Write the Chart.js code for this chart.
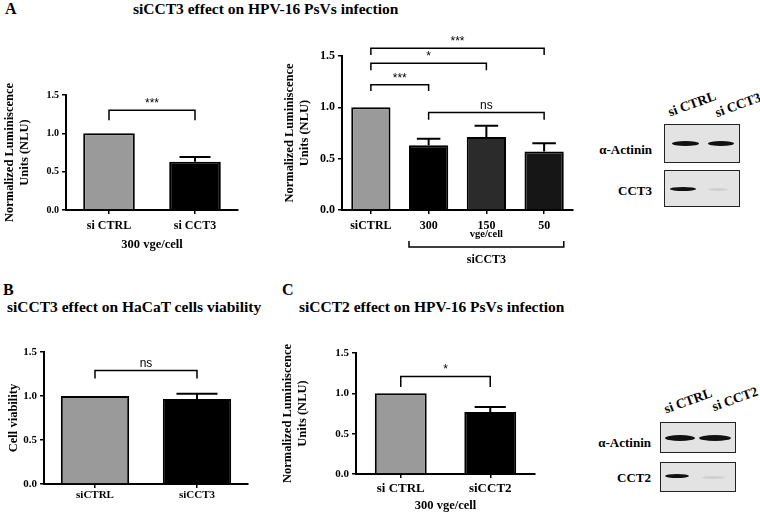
<!DOCTYPE html>
<html>
<head>
<meta charset="utf-8">
<script src="https://cdn.jsdelivr.net/npm/chart.js@4.4.1/dist/chart.umd.min.js"></script>
<style>
  body { margin: 0; background: #fff; width: 760px; height: 514px; position: relative; overflow: hidden;
         font-family: "Liberation Serif", "Times New Roman", "DejaVu Serif", serif; font-weight: bold; color: #000; }
  canvas { position: absolute; }
  .t { position: absolute; white-space: nowrap; line-height: 1; }
  .r { text-align: right; }
  .rot { transform: translate(-50%, -50%) rotate(-20deg); }
  .blot { position: absolute; border: 1.5px solid #222; background: #e3e3e3; box-sizing: border-box; }
  .band { position: absolute; border-radius: 50%; background: #111; filter: blur(0.6px); }
  .faint { background: #cfcfcf; }
</style>
</head>
<body>

<div class="t" style="left:5px;top:1px;font-size:16px">A</div>
<div class="t" style="left:133px;top:1px;font-size:15.5px">siCCT3 effect on HPV-16 PsVs infection</div>
<div class="t" style="left:3px;top:282px;font-size:16px">B</div>
<div class="t" style="left:7px;top:299px;font-size:15.5px">siCCT3 effect on HaCaT cells viability</div>
<div class="t" style="left:282px;top:282px;font-size:16px">C</div>
<div class="t" style="left:299px;top:299px;font-size:15.5px">siCCT2 effect on HPV-16 PsVs infection</div>

<canvas id="a1" width="245" height="200" style="left:0;top:60px"></canvas>
<canvas id="a2" width="300" height="240" style="left:280px;top:30px"></canvas>
<canvas id="b" width="260" height="194" style="left:0;top:320px"></canvas>
<canvas id="c" width="265" height="194" style="left:280px;top:320px"></canvas>

<!-- western blot, panel A -->
<div class="t rot" style="left:692px;top:104px;font-size:13.5px">si CTRL</div>
<div class="t rot" style="left:738px;top:105px;font-size:13.5px">si CCT3</div>
<div class="t r" style="right:108px;top:143px;font-size:13px">α-Actinin</div>
<div class="t r" style="right:108px;top:184px;font-size:13px">CCT3</div>
<div class="blot" style="left:664px;top:124px;width:76px;height:39px">
  <div class="band" style="left:7px;top:16px;width:27px;height:5px"></div>
  <div class="band" style="left:43px;top:16px;width:26px;height:5px"></div>
</div>
<div class="blot" style="left:664px;top:170px;width:76px;height:37px">
  <div class="band" style="left:5px;top:16px;width:26px;height:4px"></div>
  <div class="band faint" style="left:43px;top:17px;width:20px;height:3px"></div>
</div>

<!-- western blot, panel C -->
<div class="t rot" style="left:688px;top:401px;font-size:13.5px">si CTRL</div>
<div class="t rot" style="left:735px;top:399px;font-size:13.5px">si CCT2</div>
<div class="t r" style="right:109px;top:436px;font-size:13px">α-Actinin</div>
<div class="t r" style="right:109px;top:471px;font-size:13px">CCT2</div>
<div class="blot" style="left:660px;top:422px;width:76px;height:31px">
  <div class="band" style="left:4px;top:12px;width:30px;height:6px"></div>
  <div class="band" style="left:38px;top:12px;width:32px;height:6px"></div>
</div>
<div class="blot" style="left:660px;top:462px;width:76px;height:30px">
  <div class="band" style="left:4px;top:11px;width:24px;height:4px"></div>
  <div class="band faint" style="left:41px;top:13px;width:23px;height:3px"></div>
</div>

<script>
// A, left: 300 vge/cell
const a1Labels = ['si CTRL', 'si CCT3'];
const a1Values = [1.0, 0.63];
const a1Err = [0, 0.06];

// A, middle: siCCT3 at three doses
const a2Labels = ['siCTRL', '300', '150', '50'];
const a2Values = [1.0, 0.63, 0.71, 0.57];
const a2Err = [0, 0.065, 0.11, 0.08];

// B: cell viability
const bLabels = ['siCTRL', 'siCCT3'];
const bValues = [1.0, 0.965];
const bErr = [0, 0.06];

// C: siCCT2
const cLabels = ['si CTRL', 'siCCT2'];
const cValues = [1.0, 0.77];
const cErr = [0, 0.06];

const yTicks = [0, 0.5, 1.0, 1.5];

// significance brackets: [from bar, to bar, bracket level, leg end, label]
const a1Sig = [[0, 1, 1.30, 1.17, '***']];
const a2Sig = [[0, 3, 1.575, 1.51, '***'], [0, 2, 1.43, 1.36, '*'], [0, 1, 1.22, 1.16, '***'], [1, 3, 0.95, 0.88, 'ns']];
const bSig = [[0, 1, 1.29, 1.20, 'ns']];
const cSig = [[0, 1, 1.21, 1.08, '*']];

const SERIF = '"Liberation Serif", "Times New Roman", "DejaVu Serif", serif';
const GREY = '#9a9a9a';

// error bars (upper half only) + significance brackets
function sigPlugin(items, err) {
  return {
    id: 'sig',
    afterDatasetsDraw(chart) {
      const ctx = chart.ctx, y = chart.scales.y;
      const bars = chart.getDatasetMeta(0).data;
      const vals = chart.data.datasets[0].data;
      ctx.save();
      ctx.strokeStyle = '#000';
      ctx.lineWidth = 2;
      err.forEach((e, i) => {
        if (!e) return;
        const b = bars[i], top = y.getPixelForValue(vals[i] + e), half = b.width * 0.3;
        ctx.beginPath();
        ctx.moveTo(b.x, b.y);
        ctx.lineTo(b.x, top);
        ctx.moveTo(b.x - half, top);
        ctx.lineTo(b.x + half, top);
        ctx.stroke();
      });
      ctx.lineWidth = 1.5;
      ctx.fillStyle = '#000';
      ctx.font = '12px "Liberation Sans", Arial, sans-serif';
      ctx.textAlign = 'center';
      ctx.textBaseline = 'alphabetic';
      items.forEach(([i, j, lvl, leg, text]) => {
        const x1 = bars[i].x, x2 = bars[j].x;
        const yl = y.getPixelForValue(lvl), yg = y.getPixelForValue(leg);
        ctx.beginPath();
        ctx.moveTo(x1, yg);
        ctx.lineTo(x1, yl);
        ctx.lineTo(x2, yl);
        ctx.lineTo(x2, yg);
        ctx.stroke();
        ctx.fillText(text, (x1 + x2) / 2, yl - 3);
      });
      ctx.restore();
    }
  };
}

// the "vge/cell" / siCCT3 grouping under the dose bars
const doseGroup = {
  id: 'doseGroup',
  afterDraw(chart) {
    const ctx = chart.ctx, bars = chart.getDatasetMeta(0).data;
    const x1 = bars[1].x - bars[1].width / 2, x2 = bars[3].x + bars[3].width / 2;
    const base = chart.chartArea.bottom;
    ctx.save();
    ctx.fillStyle = '#000';
    ctx.strokeStyle = '#000';
    ctx.lineWidth = 1.5;
    ctx.textAlign = 'center';
    ctx.textBaseline = 'middle';
    ctx.font = 'bold 10.5px ' + SERIF;
    ctx.fillText('vge/cell', bars[2].x, base + 24);
    ctx.beginPath();
    ctx.moveTo(x1, base + 31);
    ctx.lineTo(x1, base + 37);
    ctx.lineTo(x2, base + 37);
    ctx.lineTo(x2, base + 31);
    ctx.stroke();
    ctx.font = 'bold 12px ' + SERIF;
    ctx.fillText('siCCT3', (x1 + x2) / 2, base + 50);
    ctx.restore();
  }
};

function barChart(id, labels, values, err, colors, c) {
  const extra = [sigPlugin(c.sig, err)];
  if (c.group) extra.push(doseGroup);
  return new Chart(document.getElementById(id), {
    type: 'bar',
    data: {
      labels: labels,
      datasets: [{
        data: values,
        backgroundColor: colors,
        borderColor: '#000',
        borderWidth: 2,
        barPercentage: c.bar,
        categoryPercentage: 1,
      }],
    },
    options: {
      responsive: false,
      animation: false,
      layout: { padding: { top: c.top, right: c.right, left: 0, bottom: 0 } },
      plugins: { legend: { display: false }, tooltip: { enabled: false } },
      scales: {
        x: {
          grid: { offset: false, drawOnChartArea: false, tickLength: 4, color: '#000', lineWidth: 1.5 },
          border: { color: '#000', width: 2 },
          ticks: { color: '#000', padding: c.xPad, font: { family: SERIF, weight: 'bold', size: c.xFont } },
          title: {
            display: !!c.xTitle,
            text: c.xTitle,
            color: '#000',
            padding: { top: 0, bottom: c.xTitlePad },
            font: { family: SERIF, weight: 'bold', size: 12.5 },
          },
          afterFit: s => { s.height = c.xH; },
        },
        y: {
          min: 0,
          max: 1.5,
          afterBuildTicks: s => { s.ticks = yTicks.map(v => ({ value: v })); },
          grid: { drawOnChartArea: false, tickLength: 4, color: '#000', lineWidth: 1.5 },
          border: { color: '#000', width: 2 },
          ticks: {
            color: '#000',
            padding: 3,
            font: { family: SERIF, weight: 'bold', size: c.yFont },
            callback: v => v.toFixed(1),
          },
          title: {
            display: true,
            text: c.yTitle,
            color: '#000',
            padding: { top: c.yTitlePad, bottom: 0 },
            font: { family: SERIF, weight: 'bold', size: 12.5, lineHeight: 1.2 },
          },
          afterFit: s => { s.width = c.yW; },
        },
      },
    },
    plugins: extra,
  });
}

const NLU = ['Normalized Luminiscence', 'Units (NLU)'];

barChart('a1', a1Labels, a1Values, a1Err, [GREY, '#000'], {
  bar: 0.6, top: 35, right: 7, yW: 66, xH: 50, xPad: 5, xFont: 12, yFont: 10,
  xTitle: '300 vge/cell', xTitlePad: 8, yTitle: NLU, yTitlePad: 2, sig: a1Sig,
});

barChart('a2', a2Labels, a2Values, a2Err, [GREY, '#000', '#2b2b2b', '#161616'], {
  bar: 0.68, top: 26, right: 7, yW: 62, xH: 60, xPad: 5, xFont: 12, yFont: 12,
  xTitle: null, xTitlePad: 0, yTitle: NLU, yTitlePad: 2, sig: a2Sig, group: true,
});

barChart('b', bLabels, bValues, bErr, [GREY, '#000'], {
  bar: 0.67, top: 32, right: 12, yW: 44, xH: 30, xPad: 1, xFont: 11, yFont: 11,
  xTitle: null, xTitlePad: 0, yTitle: 'Cell viability', yTitlePad: 6, sig: bSig,
});

barChart('c', cLabels, cValues, cErr, [GREY, '#000'], {
  bar: 0.58, top: 33, right: 10, yW: 76, xH: 40, xPad: 3, xFont: 13, yFont: 11,
  xTitle: '300 vge/cell', xTitlePad: 1, yTitle: NLU, yTitlePad: 0, sig: cSig,
});
</script>
</body>
</html>
